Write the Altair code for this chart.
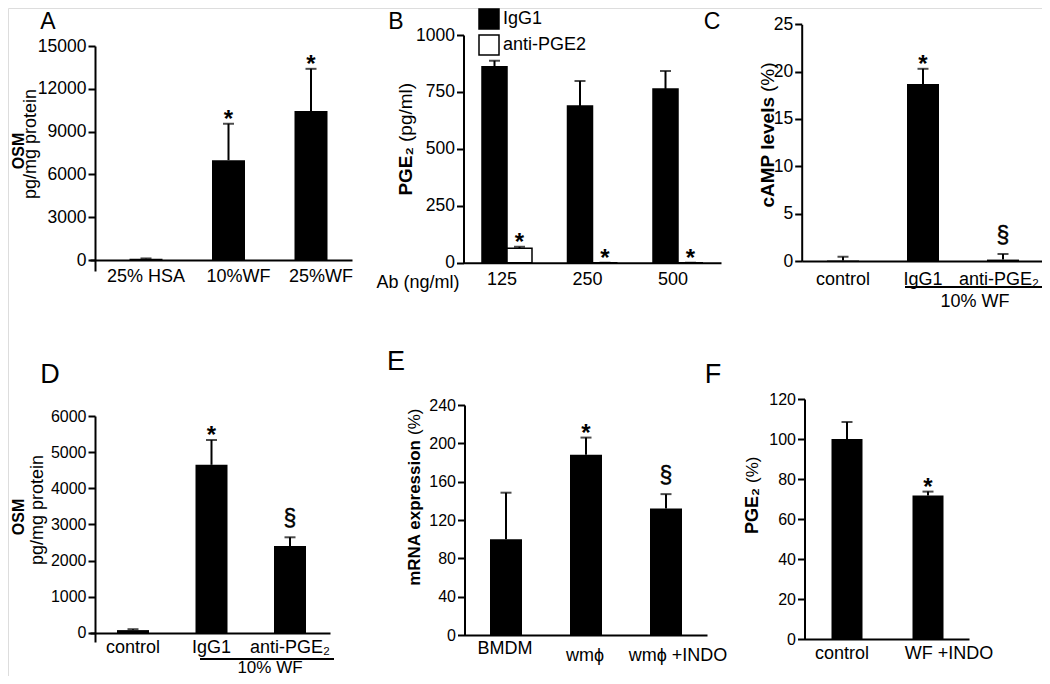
import altair as alt
import pandas as pd

FONT = "Liberation Sans"
M = 8            # browser page margin
W, H = 1034, 668 # drawing area

# ---------------- data ----------------
a_cats = ["25% HSA", "10%WF", "25%WF"]
a_vals = [80, 7000, 10450]
a_errs = [110, 9550, 13400]
a_sig = ["", "*", "*"]
a_ticks = [0, 3000, 6000, 9000, 12000, 15000]

b_doses = ["125", "250", "500"]
b_series = ["IgG1", "anti-PGE2"]
b_igg1 = [861, 688, 763]
b_igg1_err = [887, 798, 842]
b_anti = [63, 0, 0]
b_anti_err = [70, 0, 0]
b_anti_sig = ["*", "*", "*"]
b_ticks = [0, 250, 500, 750, 1000]

c_cats = ["control", "IgG1", "anti-PGE\u2082"]
c_vals = [0.05, 18.7, 0.15]
c_errs = [0.45, 20.3, 0.74]
c_sig = ["", "*", "\u00a7"]
c_ticks = [0, 5, 10, 15, 20, 25]

d_cats = ["control", "IgG1", "anti-PGE\u2082"]
d_vals = [80, 4650, 2405]
d_errs = [105, 5336, 2646]
d_sig = ["", "*", "\u00a7"]
d_ticks = [0, 1000, 2000, 3000, 4000, 5000, 6000]

e_cats = ["BMDM", "wm\u03d5", "wm\u03d5 +INDO"]
e_vals = [100, 188, 132]
e_errs = [148.5, 206, 147]
e_sig = ["", "*", "\u00a7"]
e_ticks = [0, 40, 80, 120, 160, 200, 240]

f_cats = ["control", "WF +INDO"]
f_vals = [100, 71.7]
f_errs = [108.5, 73.7]
f_sig = ["", "*"]
f_ticks = [0, 20, 40, 60, 80, 100, 120]


# ---------------- helpers ----------------
def band(cats, r0, r1, first_center, step, bw):
    r0, r1, c0 = r0 - M, r1 - M, first_center - M
    n = len(cats)
    pi = 1 - bw / step
    extra = (r1 - r0) - step * (n - pi)
    return alt.Scale(type="band", domain=cats, range=[r0, r1], paddingInner=pi,
                     paddingOuter=extra / (2 * step),
                     align=(c0 - bw / 2 - r0) / extra, round=False)


def lin(lo, hi, y_lo, y_hi):
    return alt.Scale(type="linear", domain=[lo, hi], range=[y_lo - M, y_hi - M],
                     nice=False, zero=False)


def yaxis(x, ticks, size):
    return alt.Axis(orient="left", offset=-(x - M), values=ticks, format="d", title=None,
                    grid=False, domainColor="black", domainWidth=2, tickColor="black",
                    tickWidth=2, tickSize=7, labelFont=FONT, labelFontSize=size,
                    labelColor="black", labelPadding=2, labelOverlap=False, labelFlush=False)


def xaxis(y, pad, offset=0):
    return alt.Axis(orient="bottom", offset=(y - M) - H, title=None, grid=False, ticks=False,
                    domainColor="black", domainWidth=2, labelFont=FONT, labelFontSize=18,
                    labelColor="black", labelAngle=0, labelBaseline="middle",
                    labelPadding=pad, labelOffset=offset, labelOverlap=False, labelFlush=False)


def panel(df, X, yscale, yax, bar_mark=None, bar_enc=None, **extra):
    def Y(f):
        return alt.Y(f + ":Q", scale=yscale, axis=yax)
    base = alt.Chart(df)
    layers = [
        base.mark_rule(color="black", strokeWidth=2).encode(x=X, y=Y("val"), y2=alt.Y2("err:Q"), **extra),
        base.mark_tick(color="black", size=11, thickness=2).encode(x=X, y=Y("err"), **extra),
        base.mark_bar(**(bar_mark or {"color": "black"})).encode(x=X, y=Y("val"), **extra, **(bar_enc or {})),
        base.transform_filter("datum.sig === '*'").mark_text(
            font=FONT, fontSize=24, fontWeight="bold", baseline="alphabetic", dy=3, color="black"
        ).encode(x=X, y=Y("err"), text="sig:N", **extra),
        base.transform_filter("datum.sig === '\u00a7'").mark_text(
            font=FONT, fontSize=23, baseline="alphabetic", dy=-11, color="black", stroke="black", strokeWidth=0.4
        ).encode(x=X, y=Y("err"), text="sig:N", **extra),
    ]
    return alt.layer(*layers)


def label(text, x, y, size=18, weight="normal", angle=0, align="center"):
    return alt.Chart(pd.DataFrame({"t": [text]})).mark_text(
        font=FONT, fontSize=size, fontWeight=weight, angle=angle, align=align,
        baseline="middle", color="black"
    ).encode(text="t:N", x=alt.value(x - M), y=alt.value(y - M))


def split_title(bold, normal, x, y, size_b, size_n):
    # rotated title: bold part below the junction point, normal part above it
    return [label(bold, x, y, size_b, "bold", 270, "right"),
            label(normal, x, y - 5, size_n, angle=270, align="left")]


def hline(x1, x2, y):
    return alt.Chart(pd.DataFrame({"t": [0]})).mark_rule(color="black", strokeWidth=2).encode(
        x=alt.value(x1 - M), x2=alt.value(x2 - M), y=alt.value(y - M))


def frame(cats, vals, errs, sig):
    return pd.DataFrame({"cat": cats, "val": vals, "err": errs, "sig": sig})


# ---------------- panels ----------------
pA = panel(frame(a_cats, a_vals, a_errs, a_sig),
           alt.X("cat:N", scale=band(a_cats, 90, 352, 146, 82.5, 33),
                 axis=xaxis(260, 16, {"condition": {"test": "datum.value !== '25% HSA'", "value": 10}, "value": 0})),
           lin(-771, 15000, 271, 46), yaxis(95, a_ticks, 17.5))

b_df = pd.DataFrame({
    "dose": b_doses * 2,
    "series": [b_series[0]] * 3 + [b_series[1]] * 3,
    "val": b_igg1 + b_anti,
    "err": b_igg1_err + b_anti_err,
    "sig": [""] * 3 + b_anti_sig,
})
pB = panel(b_df,
           alt.X("dose:N", scale=band(b_doses, 463.5, 721, 507, 85.5, 50), axis=xaxis(262.7, 17, -5)),
           lin(0, 1000, 262.7, 35), yaxis(463.5, b_ticks, 17.5),
           bar_mark={"stroke": "black", "strokeWidth": 1.5},
           bar_enc={"color": alt.Color("series:N",
                                       scale=alt.Scale(domain=b_series, range=["black", "white"]),
                                       legend=alt.Legend(orient="none", legendX=478 - M, legendY=0,
                                                         title=None, symbolType="square", symbolSize=400,
                                                         symbolStrokeColor="black", symbolStrokeWidth=1.5,
                                                         labelFont=FONT, labelFontSize=18, labelColor="black",
                                                         labelOffset=3, rowPadding=0, padding=0))},
           xOffset=alt.XOffset("series:N", scale=alt.Scale(domain=b_series, paddingInner=0, paddingOuter=0)))

pC = panel(frame(c_cats, c_vals, c_errs, c_sig),
           alt.X("cat:N", scale=band(c_cats, 801.7, 1045, 843, 80, 32),
                 axis=xaxis(261, 18, {"condition": {"test": "datum.value === 'anti-PGE\u2082'", "value": -4}, "value": 0})),
           lin(0, 25, 261, 24.3), yaxis(801.7, c_ticks, 17.5))

pD = panel(frame(d_cats, d_vals, d_errs, d_sig),
           alt.X("cat:N", scale=band(d_cats, 90, 330, 133, 78.5, 32), axis=xaxis(633, 14)),
           lin(-249, 6000, 642, 416), yaxis(95, d_ticks, 16))

pE = panel(frame(e_cats, e_vals, e_errs, e_sig),
           alt.X("cat:N", scale=band(e_cats, 464.5, 707, 506, 80, 32),
                 axis=xaxis(635, {"condition": {"test": "datum.value === 'BMDM'", "value": 13}, "value": 20},
                            {"condition": {"test": "datum.value === 'wm\u03d5 +INDO'", "value": 12}, "value": -1})),
           lin(0, 240, 635, 405), yaxis(464.5, e_ticks, 16))

pF = panel(frame(f_cats, f_vals, f_errs, f_sig),
           alt.X("cat:N", scale=band(f_cats, 804.5, 969, 847, 81, 31),
                 axis=xaxis(639, 14, {"condition": {"test": "datum.value === 'WF +INDO'", "value": 21}, "value": -5})),
           lin(0, 120, 639, 399), yaxis(804.5, f_ticks, 16))

# ---------------- annotations ----------------
notes = [
    label("A", 48, 22, 23), label("B", 396, 22, 23), label("C", 712, 22, 23),
    label("D", 50, 375, 27), label("E", 396, 362, 27), label("F", 713, 375, 27),
    # y titles
    label("OSM", 18.5, 151, 16, "bold", 270), label("pg/mg protein", 31, 144, 18, angle=270),
    *split_title("PGE\u2082", "(pg/ml)", 406, 147, 19, 19),
    *split_title("cAMP levels", "(%)", 768, 97, 19, 19),
    label("OSM", 18.5, 517, 16, "bold", 270), label("pg/mg protein", 38, 510, 18, angle=270),
    *split_title("mRNA expression", "(%)", 415, 440, 17, 17),
    *split_title("PGE\u2082", "(%)", 753, 488, 18, 17),
    # extra axis texts
    label("Ab (ng/ml)", 418, 283, 18),
    hline(905, 1048, 287), label("10% WF", 975, 302, 18),
    hline(200, 334, 659), label("10% WF", 270, 668, 17),
]

chart = alt.layer(pA, pB, pC, pD, pE, pF, *notes).resolve_scale(
    x="independent", y="independent"
).properties(
    width=W, height=H, autosize=alt.AutoSizeParams(type="none"), padding=0
).configure_view(stroke=None).configure(font=FONT, background="white")

chart.save("out.html", embed_options={"renderer": "svg", "actions": False})
